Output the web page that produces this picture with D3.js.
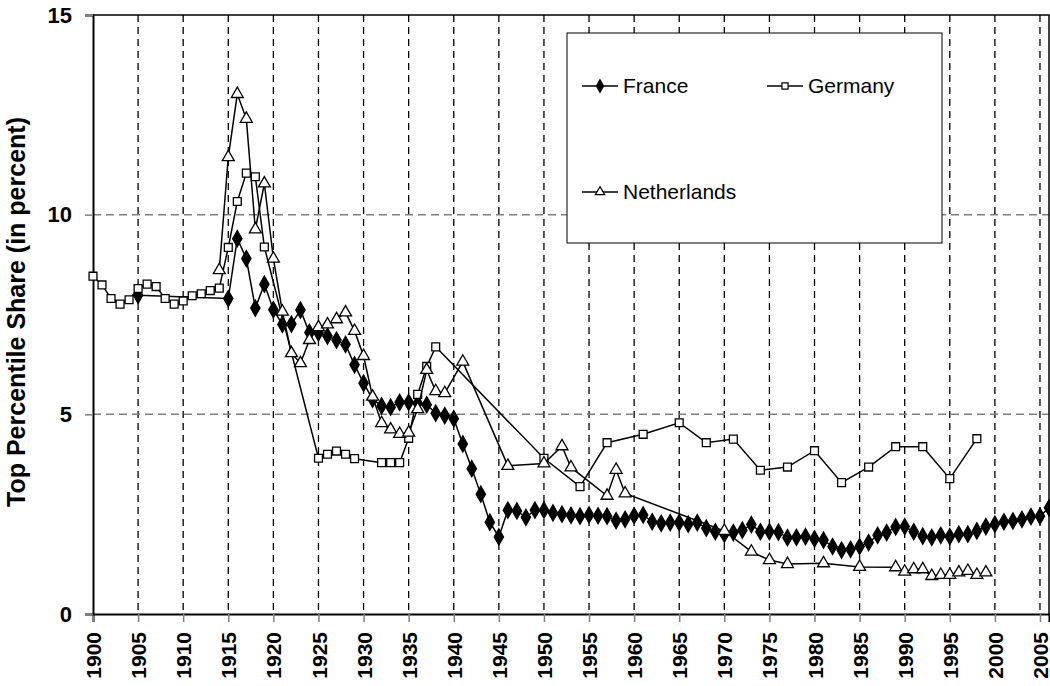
<!DOCTYPE html>
<meta charset="utf-8">
<style>
body { margin: 0; background: #fff; }
text { font-family: "Liberation Sans", Arial, sans-serif; }
</style>
<body>
<svg width="1050" height="686"></svg>
<script src="https://d3js.org/d3.v7.min.js"></script>
<script>
var franceYears = [1905,1915,1916,1917,1918,1919,1920,1921,1922,1923,1924,1925,1926,1927,1928,1929,1930,1931,1932,1933,1934,1935,1936,1937,1938,1939,1940,1941,1942,1943,1944,1945,1946,1947,1948,1949,1950,1951,1952,1953,1954,1955,1956,1957,1958,1959,1960,1961,1962,1963,1964,1965,1966,1967,1968,1969,1970,1971,1972,1973,1974,1975,1976,1977,1978,1979,1980,1981,1982,1983,1984,1985,1986,1987,1988,1989,1990,1991,1992,1993,1994,1995,1996,1997,1998,1999,2000,2001,2002,2003,2004,2005,2006];
var franceValues = [7.98,7.90,9.40,8.90,7.66,8.26,7.62,7.25,7.26,7.61,7.05,7.04,6.96,6.86,6.75,6.24,5.78,5.38,5.21,5.18,5.30,5.30,5.28,5.24,5.03,4.97,4.89,4.26,3.64,3.00,2.30,1.93,2.60,2.58,2.42,2.60,2.60,2.53,2.50,2.47,2.45,2.48,2.46,2.45,2.34,2.37,2.46,2.48,2.31,2.27,2.29,2.29,2.25,2.29,2.15,2.06,2.00,2.04,2.10,2.24,2.06,2.06,2.05,1.91,1.92,1.94,1.88,1.85,1.69,1.60,1.62,1.69,1.79,1.97,2.04,2.18,2.19,2.06,1.95,1.92,1.97,1.94,2.00,2.00,2.08,2.19,2.25,2.31,2.33,2.37,2.44,2.45,2.66];

var germanyYears = [1900,1901,1902,1903,1904,1905,1906,1907,1908,1909,1910,1911,1912,1913,1914,1915,1916,1917,1918,1919,1925,1926,1927,1928,1929,1932,1933,1934,1935,1936,1937,1938,1950,1954,1957,1961,1965,1968,1971,1974,1977,1980,1983,1986,1989,1992,1995,1998];
var germanyValues = [8.46,8.24,7.90,7.76,7.87,8.15,8.26,8.20,7.90,7.76,7.84,7.97,8.02,8.10,8.16,9.18,10.33,11.04,10.95,9.19,3.90,4.00,4.08,4.00,3.89,3.79,3.79,3.79,4.40,5.50,6.20,6.69,3.90,3.19,4.29,4.50,4.79,4.29,4.38,3.60,3.68,4.09,3.29,3.68,4.19,4.19,3.39,4.39];

var netherlandsYears = [1914,1915,1916,1917,1918,1919,1920,1921,1922,1923,1924,1925,1926,1927,1928,1929,1930,1931,1932,1933,1934,1935,1936,1937,1938,1939,1941,1946,1950,1952,1953,1957,1958,1959,1970,1973,1975,1977,1981,1985,1989,1990,1991,1992,1993,1994,1995,1996,1997,1998,1999];
var netherlandsValues = [8.61,11.44,13.02,12.40,9.63,10.78,8.90,7.57,6.53,6.28,6.86,7.18,7.25,7.38,7.55,7.09,6.46,5.44,4.78,4.62,4.51,4.54,5.13,6.11,5.58,5.53,6.32,3.71,3.77,4.20,3.67,2.96,3.61,3.02,2.08,1.56,1.35,1.25,1.27,1.18,1.17,1.06,1.12,1.12,0.95,0.98,0.98,1.04,1.08,0.98,1.04];

var xTicks = d3.range(1900, 2006, 5);
var yTicks = [0, 5, 10, 15];

var svg = d3.select("svg");
var plotLeft = 93, plotRight = 1049, plotTop = 15, plotBottom = 614;

var x = d3.scaleLinear().domain([1900, 2006]).range([plotLeft, plotRight]);
var y = d3.scaleLinear().domain([0, 15]).range([plotBottom, plotTop]);

// grid
svg.append("g").selectAll("line")
    .data(xTicks.slice(1))
    .enter().append("line")
    .attr("x1", function(d) { return x(d); })
    .attr("x2", function(d) { return x(d); })
    .attr("y1", plotTop)
    .attr("y2", plotBottom)
    .attr("stroke", "#000")
    .attr("stroke-width", 1.3)
    .attr("stroke-dasharray", "7,5");

svg.append("g").selectAll("line")
    .data([5, 10])
    .enter().append("line")
    .attr("x1", plotLeft)
    .attr("x2", plotRight)
    .attr("y1", function(d) { return y(d); })
    .attr("y2", function(d) { return y(d); })
    .attr("stroke", "#808080")
    .attr("stroke-width", 1.5)
    .attr("stroke-dasharray", "8,5");

// frame top/right
svg.append("path")
    .attr("d", "M" + plotLeft + "," + plotTop + "H" + plotRight + "V" + plotBottom)
    .attr("fill", "none")
    .attr("stroke", "#000")
    .attr("stroke-width", 1.5);

// axes
var xAxis = svg.append("g")
    .attr("transform", "translate(0," + plotBottom + ")")
    .call(d3.axisBottom(x).tickValues(xTicks).tickSize(8).tickFormat(d3.format("d")));
xAxis.select(".domain").attr("stroke", "#000").attr("stroke-width", 2);
xAxis.selectAll(".tick line").attr("stroke", "#808080").attr("stroke-width", 1.5);
xAxis.selectAll("text")
    .attr("transform", "rotate(-90)")
    .attr("x", -18)
    .attr("y", 0)
    .attr("dy", "0.36em")
    .style("text-anchor", "end")
    .style("font-size", "21px")
    .style("font-weight", "bold")
    .attr("fill", "#000");

var yAxis = svg.append("g")
    .attr("transform", "translate(" + plotLeft + ",0)")
    .call(d3.axisLeft(y).tickValues(yTicks).tickSize(8));
yAxis.select(".domain").attr("stroke", "#000").attr("stroke-width", 2);
yAxis.selectAll(".tick line").attr("stroke", "#808080").attr("stroke-width", 1.5);
yAxis.selectAll("text")
    .attr("x", -21)
    .style("font-size", "22px")
    .style("font-weight", "bold")
    .attr("fill", "#000");

svg.append("text")
    .attr("transform", "translate(25,312) rotate(-90)")
    .attr("text-anchor", "middle")
    .style("font-size", "25px")
    .style("font-weight", "bold")
    .text("Top Percentile Share (in percent)");

// series
var series = [
    {name: "France", years: franceYears, values: franceValues, symbol: d3.symbolDiamond, size: 75, fill: "#000"},
    {name: "Germany", years: germanyYears, values: germanyValues, symbol: d3.symbolSquare, size: 62, fill: "#fff"},
    {name: "Netherlands", years: netherlandsYears, values: netherlandsValues, symbol: d3.symbolTriangle, size: 62, fill: "#fff"}
];

var line = d3.line()
    .x(function(d) { return x(d[0]); })
    .y(function(d) { return y(d[1]); });

series.forEach(function(s) {
    var pts = s.years.map(function(yr, i) { return [yr, s.values[i]]; });
    svg.append("path")
        .datum(pts)
        .attr("d", line)
        .attr("fill", "none")
        .attr("stroke", "#000")
        .attr("stroke-width", 1.5);
    svg.append("g").selectAll("path")
        .data(pts)
        .enter().append("path")
        .attr("transform", function(d) { return "translate(" + x(d[0]) + "," + y(d[1]) + ")"; })
        .attr("d", d3.symbol().type(s.symbol).size(s.size))
        .attr("fill", s.fill)
        .attr("stroke", "#000")
        .attr("stroke-width", 1.3);
});

// legend
var legend = svg.append("g");
legend.append("rect")
    .attr("x", 567).attr("y", 33)
    .attr("width", 375).attr("height", 210)
    .attr("fill", "#fff")
    .attr("stroke", "#000")
    .attr("stroke-width", 1);

var legendPos = [[582, 86], [767, 86], [582, 192]];
series.forEach(function(s, i) {
    var p = legendPos[i];
    var g = legend.append("g").attr("transform", "translate(" + p[0] + "," + p[1] + ")");
    g.append("line").attr("x1", 0).attr("x2", 36).attr("stroke", "#000").attr("stroke-width", 1.5);
    g.append("path")
        .attr("transform", "translate(18,0)")
        .attr("d", d3.symbol().type(s.symbol).size(s.size * 0.6))
        .attr("fill", s.fill)
        .attr("stroke", "#000")
        .attr("stroke-width", 1.2);
    g.append("text")
        .attr("x", 41)
        .attr("dy", "0.35em")
        .style("font-size", "21px")
        .text(s.name);
});
</script>
</body>
